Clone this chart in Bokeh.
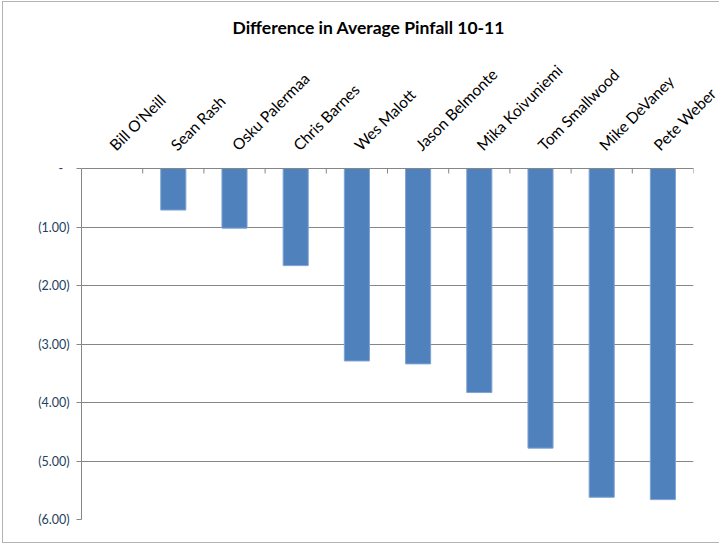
from math import pi
from bokeh.plotting import figure
from bokeh.models import Range1d, FactorRange, FixedTicker, CustomJSTickFormatter, ColumnDataSource
from bokeh.transform import dodge
from bokeh.embed import file_html
from bokeh.resources import INLINE

players = ["Bill O'Neill", "Sean Rash", "Osku Palermaa", "Chris Barnes", "Wes Malott",
           "Jason Belmonte", "Mika Koivuniemi", "Tom Smallwood", "Mike DeVaney", "Pete Weber"]
diffs = [0.0, -0.71, -1.02, -1.66, -3.29, -3.34, -3.83, -4.78, -5.62, -5.66]
y_ticks = [0, -1, -2, -3, -4, -5, -6]
title_text = "Difference in Average Pinfall 10-11"

src = ColumnDataSource(dict(player=players, diff=diffs))

p = figure(x_range=FactorRange(*players), y_range=Range1d(-6, 0),
           frame_width=612, frame_height=351,
           min_border_left=81, min_border_right=26, min_border_bottom=24, min_border_top=168,
           x_axis_location="above", output_backend="svg", toolbar_location=None,
           background_fill_color="white", border_fill_color=None)
# chart-area border on the left, top and bottom (the right edge is cut off in the original)
p.styles = {"background-color": "white",
            "box-shadow": "inset 2px 1px 0 white, inset 3px 2px 0 #B3B3B3, inset 0 -1px 0 #B3B3B3"}

p.title.text = title_text
p.title.align = "left"
p.title.offset = 151
p.title.text_font = "Lato"
p.title.text_font_size = "17.5px"
p.title.text_font_style = "bold"
p.title.text_color = "#000000"
p.title.standoff = 27

p.outline_line_color = None

p.vbar(x="player", top="diff", bottom=0, width=0.41, source=src,
       fill_color="#4F81BD", line_color="#7EA3D2", line_width=1)

# category boundary tick marks hanging below the top axis line
p.segment(x0=dodge("player", 0.5, range=p.x_range), x1=dodge("player", 0.5, range=p.x_range),
          y0=0, y1=-0.085, source=src, line_color="#868686", line_width=1)

xa = p.xaxis[0]
xa.major_label_orientation = pi / 4
xa.major_label_text_font = "Lato"
xa.major_label_text_font_size = "15.5px"
xa.major_label_text_color = "#000000"
xa.major_tick_line_color = None
xa.axis_line_color = "#868686"
xa.major_label_standoff = 15

ya = p.yaxis[0]
ya.ticker = FixedTicker(ticks=y_ticks)
ya.formatter = CustomJSTickFormatter(code="""
    if (Math.abs(tick) < 1e-9) { return "-\u00a0\u00a0"; }
    return "(" + Math.abs(tick).toFixed(2) + ")";
""")
ya.major_label_text_font = "Lato"
ya.major_label_text_font_size = "12.5px"
ya.major_label_text_color = "#243F60"
ya.axis_line_color = "#868686"
ya.major_tick_line_color = "#868686"
ya.major_tick_out = 5
ya.major_tick_in = 0
ya.minor_tick_line_color = None
ya.major_label_standoff = 7

p.xgrid.grid_line_color = None
p.ygrid.ticker = FixedTicker(ticks=y_ticks)
p.ygrid.grid_line_color = "#868686"
p.ygrid.grid_line_width = 1

open("out.html", "w").write(file_html(p, INLINE))
